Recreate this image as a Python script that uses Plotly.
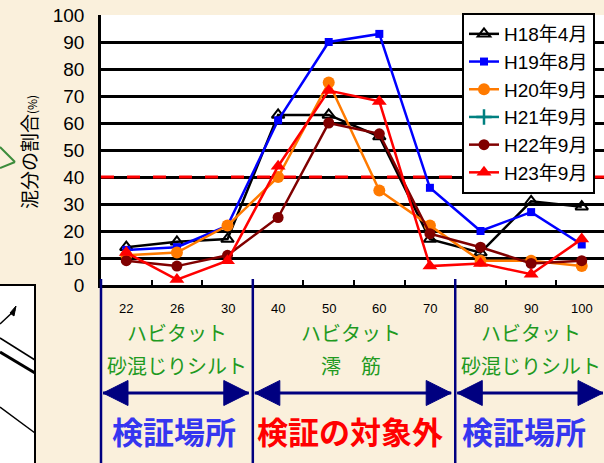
import plotly.graph_objects as go

# Sampling depth classes (category axis) and mud-fraction series (%)
depths = ["22", "26", "30", "40", "50", "60", "70", "80", "90", "100"]
h18_apr = [14, 16, 17, 63, 63, 55, 17, 12, 31, 29]
h19_aug = [13, 14, 22, 61, 90, 93, 36, 20, 27, 15]
h20_sep = [11, 12, 22, 40, 75, 35, 22, 9, 9, 7]
h21_sep = [None] * 10
h22_sep = [9, 7, 11, 25, 60, 56, 19, 14, 8, 9]
h23_sep = [12, 2, 9, 44, 72, 68, 7, 8, 4, 17]
y_ticks = [0, 10, 20, 30, 40, 50, 60, 70, 80, 90, 100]
threshold = 40

W, H = 604, 463
L, T, B = 101, 15, 178
X_RANGE = [-0.5, 9.44]
plot_w = W - L
plot_h = H - T - B
x0_px, y0_px = L, T + plot_h


def xp(px):
    return (px - x0_px) / plot_w


def yp(py):
    return (y0_px - py) / plot_h


def cat_x(pos):
    return (pos - X_RANGE[0]) / (X_RANGE[1] - X_RANGE[0])


JP = "Noto Sans CJK JP"
LAT = "Liberation Sans, Arial, sans-serif"
NAVY = "#000080"
GREEN = "#1f9a1f"

series = [
    ("H18年4月", h18_apr, "#000000", "triangle-up-open", 11, None),
    ("H19年8月", h19_aug, "#0000ff", "square", 8, None),
    ("H20年9月", h20_sep, "#ff7a00", "circle", 12, None),
    ("H21年9月", h21_sep, "#008080", "cross-thin", 11, 2.5),
    ("H22年9月", h22_sep, "#800000", "circle", 11, None),
    ("H23年9月", h23_sep, "#ff0000", "triangle-up", 13, None),
]

xs = list(range(len(depths)))
fig = go.Figure()

# 40% reference line, drawn first so the data sit on top of it
fig.add_trace(go.Scatter(
    x=X_RANGE, y=[threshold, threshold], mode="lines", showlegend=False,
    hoverinfo="skip", line=dict(color="#ff0000", width=3, dash="13px,13px"),
))

for name, vals, color, sym, size, lw in series:
    marker = dict(symbol=sym, size=size, color=color)
    if sym.endswith("-open"):
        marker["line"] = dict(width=2, color=color)
    elif lw:
        marker["line"] = dict(width=lw, color=color)
    else:
        marker["line"] = dict(width=0)
    fig.add_trace(go.Scatter(
        x=xs, y=vals, name=name, mode="lines+markers",
        line=dict(color=color, width=2.5), marker=marker,
        connectgaps=False,
    ))

shapes = []
# group separators below the axis
for b in [-0.5, 2.5, 6.5]:
    shapes.append(dict(type="line", xref="paper", yref="paper",
                       x0=cat_x(b), x1=cat_x(b), y0=yp(y0_px - 6), y1=yp(H + 2),
                       line=dict(color=NAVY, width=2.5)))

# double-headed arrows for each group
arrow_y = yp(393)
head_len = 25 / plot_w * (X_RANGE[1] - X_RANGE[0])
head_half = 12.5 / plot_h
for a, b in [(-0.5, 2.5), (2.5, 6.5), (6.5, 9.5)]:
    l_tip, r_tip = a + 0.04, b - 0.08
    shapes.append(dict(type="line", xref="paper", yref="paper",
                       x0=cat_x(l_tip), x1=cat_x(r_tip), y0=arrow_y, y1=arrow_y,
                       line=dict(color=NAVY, width=3)))
    for tip, base in [(l_tip, l_tip + head_len), (r_tip, r_tip - head_len)]:
        path = "M {:.4f},{:.4f} L {:.4f},{:.4f} L {:.4f},{:.4f} Z".format(
            cat_x(tip), arrow_y, cat_x(base), arrow_y + head_half,
            cat_x(base), arrow_y - head_half)
        shapes.append(dict(type="path", xref="paper", yref="paper", path=path,
                           fillcolor=NAVY, line=dict(color=NAVY, width=1)))

# neighbouring slide elements at the left edge
shapes.append(dict(type="rect", xref="paper", yref="paper",
                   x0=xp(-3), x1=xp(35), y0=yp(285), y1=yp(H + 5),
                   fillcolor="white", line=dict(color="black", width=2)))
for (ax, ay, bx, by, w) in [(0, 338, 35, 360, 1.5), (0, 352, 35, 373, 3),
                            (0, 407, 35, 433, 1.5), (0, 324, 15, 310, 1.5)]:
    shapes.append(dict(type="line", xref="paper", yref="paper",
                       x0=xp(ax), x1=xp(bx), y0=yp(ay), y1=yp(by),
                       line=dict(color="black", width=w)))
shapes.append(dict(type="path", xref="paper", yref="paper",
                   path="M {:.4f},{:.4f} L {:.4f},{:.4f} L {:.4f},{:.4f} Z".format(
                       xp(16), yp(306), xp(10), yp(313), xp(14), yp(316)),
                   fillcolor="black", line=dict(color="black", width=1)))
for (ax, ay) in [(0, 147), (0, 168)]:
    shapes.append(dict(type="line", xref="paper", yref="paper",
                       x0=xp(ax), x1=xp(15), y0=yp(ay), y1=yp(162),
                       line=dict(color="#3c8c3c", width=2)))

annotations = []


def label(x, y, text, font, **kw):
    d = dict(x=x, y=y, xref="paper", yref="paper", text=text, showarrow=False,
             xanchor="center", yanchor="middle", font=font)
    d.update(kw)
    annotations.append(d)


# depth labels
for i, d in enumerate(depths):
    label(cat_x(i), yp(308), d, dict(family=LAT, size=13, color="black"))

# habitat descriptions
for cx, line1, line2 in [(1.0, "ハビタット", "砂混じりシルト"),
                         (4.45, "ハビタット", "澪　筋"),
                         (8.0, "ハビタット", "砂混じりシルト")]:
    label(cat_x(cx), yp(332), line1, dict(family=JP, size=20, color=GREEN))
    label(cat_x(cx), yp(365), line2, dict(family=JP, size=20, color=GREEN))

for cx, text, color in [(0.95, "検証場所", "#3535f0"),
                        (4.43, "検証の対象外", "#ff0000"),
                        (7.85, "検証場所", "#3535f0")]:
    label(cat_x(cx), yp(430), "<b>" + text + "</b>",
          dict(family=JP, size=31, color=color))

# y-axis title
label(xp(28), yp(152), "泥分の割合<span style='font-size:12px'>(%)</span>",
      dict(family=JP, size=19, color="black"), textangle=-90)

fig.update_layout(
    width=W, height=H,
    margin=dict(l=L, r=0, t=T, b=B, pad=0),
    paper_bgcolor="#faf0dc",
    plot_bgcolor="white",
    showlegend=True,
    legend=dict(x=xp(462), y=yp(13), xanchor="left", yanchor="top",
                bgcolor="white", bordercolor="black", borderwidth=2,
                font=dict(family=LAT + ", " + JP, size=19, color="black"),
                itemwidth=30, tracegroupgap=0),
    xaxis=dict(range=X_RANGE, showgrid=False, zeroline=False,
               tickvals=[i + 0.5 for i in range(-1, 10)],
               ticks="inside", ticklen=5, tickwidth=2, tickcolor="black",
               showticklabels=False, showline=True, linecolor="black", linewidth=2.5),
    yaxis=dict(range=[0, 100], tickvals=y_ticks, showgrid=True,
               gridcolor="black", gridwidth=2.5, zeroline=False,
               showline=True, linecolor="black", linewidth=2.5,
               ticks="", ticklabelstandoff=10,
               tickfont=dict(family=LAT, size=19, color="black")),
    shapes=shapes,
    annotations=annotations,
)

fig.write_html("out.html")
